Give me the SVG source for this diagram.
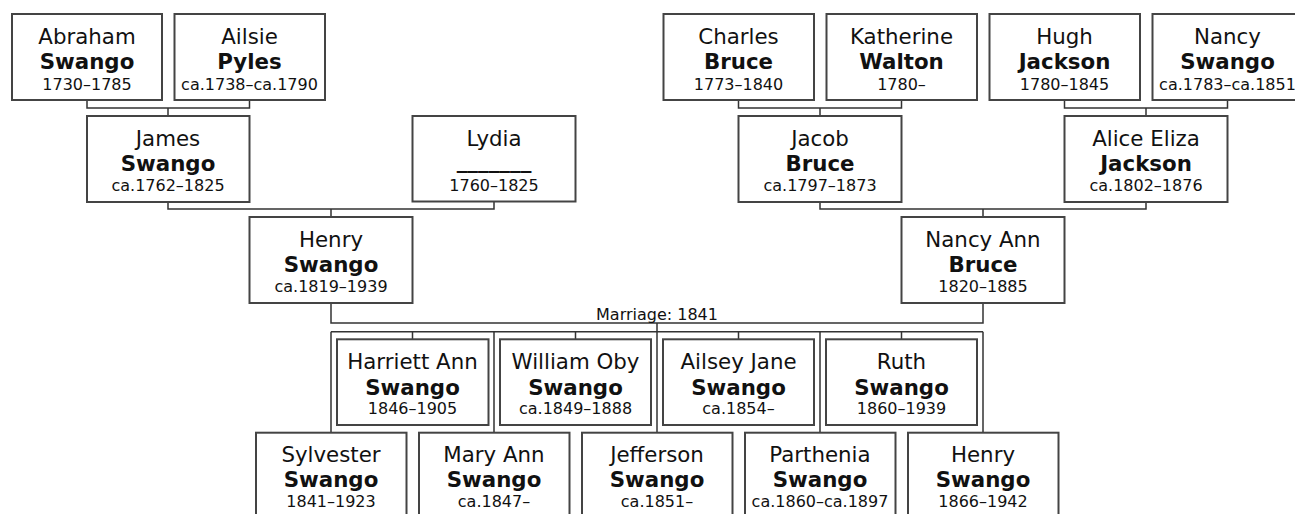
<svg xmlns="http://www.w3.org/2000/svg" width="1295" height="514" viewBox="0 0 1295 514">
<style>
.box{fill:#fff;stroke:#444;stroke-width:2}
.con{fill:none;stroke:#333;stroke-width:1.5}
text{font-family:"DejaVu Sans",Verdana,sans-serif;fill:#111;text-anchor:middle}
.n{font-size:21.33px}
.s{font-size:21.33px;font-weight:bold}
.d{font-size:16px}
.m{font-size:16px}
</style>
<rect width="1295" height="514" fill="#fff"/>
<g id="connectors">
<path class="con" d="M87,100 V108 H249.5 V100 M168,108 V116"/>
<path class="con" d="M738.5,100 V108 H901.5 V100 M820,108 V116"/>
<path class="con" d="M1064.5,100 V108 H1227.5 V100 M1146,108 V116"/>
<path class="con" d="M168,202 V209 H494 V202 M331,209 V217"/>
<path class="con" d="M820,202 V209 H1146 V202 M983,209 V217"/>
<path class="con" d="M331,303 V323 H983 V303"/>
<path class="con" d="M657,323 V433"/>
<path class="con" d="M331,331.7 H983 M331,331.7 V433 M494,331.7 V433 M820,331.7 V433 M983,331.7 V433"/>
<path class="con" d="M412.5,331.7 V339.3 M575.5,331.7 V339.3 M738.5,331.7 V339.3 M901.5,331.7 V339.3"/>
<text class="m" x="657" y="319.5">Marriage: 1841</text>
</g>
<g id="abraham"><rect class="box" x="12" y="14" width="150" height="86"/><text class="n" x="87" y="44">Abraham</text><text class="s" x="87" y="69">Swango</text><text class="d" x="87" y="89.5">1730–1785</text></g>
<g id="ailsie"><rect class="box" x="174.5" y="14" width="150.5" height="86"/><text class="n" x="249.5" y="44">Ailsie</text><text class="s" x="249.5" y="69">Pyles</text><text class="d" x="249.5" y="89.5">ca.1738–ca.1790</text></g>
<g id="charles"><rect class="box" x="663.5" y="14" width="150.5" height="86"/><text class="n" x="738.5" y="44">Charles</text><text class="s" x="738.5" y="69">Bruce</text><text class="d" x="738.5" y="89.5">1773–1840</text></g>
<g id="katherine"><rect class="box" x="826.5" y="14" width="150.5" height="86"/><text class="n" x="901.5" y="44">Katherine</text><text class="s" x="901.5" y="69">Walton</text><text class="d" x="901.5" y="89.5">1780–</text></g>
<g id="hugh"><rect class="box" x="989.5" y="14" width="150.5" height="86"/><text class="n" x="1064.5" y="44">Hugh</text><text class="s" x="1064.5" y="69">Jackson</text><text class="d" x="1064.5" y="89.5">1780–1845</text></g>
<g id="nancy"><rect class="box" x="1152.5" y="14" width="150.5" height="86"/><text class="n" x="1227.5" y="44">Nancy</text><text class="s" x="1227.5" y="69">Swango</text><text class="d" x="1227.5" y="89.5">ca.1783–ca.1851</text></g>
<g id="james"><rect class="box" x="87" y="116" width="162.5" height="86"/><text class="n" x="168" y="145.5">James</text><text class="s" x="168" y="171">Swango</text><text class="d" x="168" y="191">ca.1762–1825</text></g>
<g id="lydia"><rect class="box" x="412.5" y="116" width="163" height="85.5"/><text class="n" x="494" y="145.5">Lydia</text><text class="s" x="494" y="168">_______</text><text class="d" x="494" y="191">1760–1825</text></g>
<g id="jacob"><rect class="box" x="738.5" y="116" width="163" height="86"/><text class="n" x="820" y="145.5">Jacob</text><text class="s" x="820" y="171">Bruce</text><text class="d" x="820" y="191">ca.1797–1873</text></g>
<g id="alice"><rect class="box" x="1064.5" y="116" width="163" height="86"/><text class="n" x="1146" y="145.5">Alice Eliza</text><text class="s" x="1146" y="171">Jackson</text><text class="d" x="1146" y="191">ca.1802–1876</text></g>
<g id="henry"><rect class="box" x="249.5" y="217" width="163" height="86"/><text class="n" x="331" y="246.5">Henry</text><text class="s" x="331" y="272">Swango</text><text class="d" x="331" y="292">ca.1819–1939</text></g>
<g id="nancyann"><rect class="box" x="901.5" y="217" width="163" height="86"/><text class="n" x="983" y="246.5">Nancy Ann</text><text class="s" x="983" y="272">Bruce</text><text class="d" x="983" y="292">1820–1885</text></g>
<g id="harriett"><rect class="box" x="337" y="339.3" width="151.5" height="85.7"/><text class="n" x="412.5" y="369">Harriett Ann</text><text class="s" x="412.5" y="394.5">Swango</text><text class="d" x="412.5" y="414.3">1846–1905</text></g>
<g id="william"><rect class="box" x="500" y="339.3" width="151" height="85.7"/><text class="n" x="575.5" y="369">William Oby</text><text class="s" x="575.5" y="394.5">Swango</text><text class="d" x="575.5" y="414.3">ca.1849–1888</text></g>
<g id="ailsey"><rect class="box" x="663" y="339.3" width="151" height="85.7"/><text class="n" x="738.5" y="369">Ailsey Jane</text><text class="s" x="738.5" y="394.5">Swango</text><text class="d" x="738.5" y="414.3">ca.1854–</text></g>
<g id="ruth"><rect class="box" x="826" y="339.3" width="151" height="85.7"/><text class="n" x="901.5" y="369">Ruth</text><text class="s" x="901.5" y="394.5">Swango</text><text class="d" x="901.5" y="414.3">1860–1939</text></g>
<g id="sylvester"><rect class="box" x="256" y="432.7" width="150.5" height="86"/><text class="n" x="331" y="461.5">Sylvester</text><text class="s" x="331" y="487">Swango</text><text class="d" x="331" y="506.7">1841–1923</text></g>
<g id="maryann"><rect class="box" x="419" y="432.7" width="150.5" height="86"/><text class="n" x="494" y="461.5">Mary Ann</text><text class="s" x="494" y="487">Swango</text><text class="d" x="494" y="506.7">ca.1847–</text></g>
<g id="jefferson"><rect class="box" x="582" y="432.7" width="150.5" height="86"/><text class="n" x="657" y="461.5">Jefferson</text><text class="s" x="657" y="487">Swango</text><text class="d" x="657" y="506.7">ca.1851–</text></g>
<g id="parthenia"><rect class="box" x="745" y="432.7" width="150.5" height="86"/><text class="n" x="820" y="461.5">Parthenia</text><text class="s" x="820" y="487">Swango</text><text class="d" x="820" y="506.7">ca.1860–ca.1897</text></g>
<g id="henry2"><rect class="box" x="908" y="432.7" width="150.5" height="86"/><text class="n" x="983" y="461.5">Henry</text><text class="s" x="983" y="487">Swango</text><text class="d" x="983" y="506.7">1866–1942</text></g>
</svg>
